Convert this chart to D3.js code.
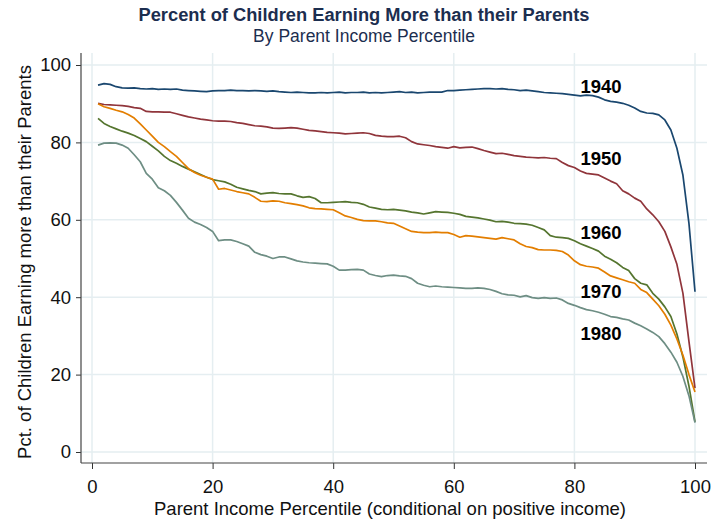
<!DOCTYPE html>
<html><head><meta charset="utf-8">
<script src="https://cdn.jsdelivr.net/npm/d3@7"></script>
<style>body{margin:0;background:#fff}svg{display:block;font-family:"Liberation Sans",Arial,sans-serif}</style>
</head><body><svg id="c" width="713" height="519"></svg>
<script>
const percentiles = d3.range(1, 101);
const cohorts = ["1940", "1950", "1960", "1970", "1980"];
const colors = ["#1a476f", "#90353b", "#55752f", "#e37e00", "#6e8e84"];
const xTicks = [0, 20, 40, 60, 80, 100];
const yTicks = [0, 20, 40, 60, 80, 100];
const s1940 = [94.8,95.2,95.0,94.4,94.1,94.0,94.1,93.9,93.8,93.9,93.7,93.8,93.7,93.8,93.5,93.4,93.3,93.2,93.1,93.3,93.4,93.4,93.5,93.4,93.4,93.3,93.4,93.3,93.2,93.3,93.1,93.0,92.9,93.0,92.9,92.8,92.8,92.9,92.8,92.9,93.0,92.8,92.9,92.9,93.0,92.8,92.9,92.8,92.9,93.0,93.1,92.9,93.0,92.8,92.9,93.0,93.0,93.0,93.4,93.4,93.5,93.6,93.7,93.8,93.9,93.9,93.8,93.9,93.7,93.6,93.4,93.5,93.3,93.1,92.9,92.8,92.7,92.6,92.4,92.2,92.0,92.2,92.1,91.7,91.0,90.6,90.4,90.1,89.6,88.9,88.0,87.6,87.5,87.1,85.8,83.2,78.5,71.5,59.0,41.4];
const s1950 = [90.1,89.8,89.7,89.6,89.5,89.3,89.0,88.8,88.0,87.9,87.9,87.8,87.8,87.4,87.0,86.6,86.3,86.0,85.8,85.6,85.5,85.5,85.4,85.1,84.9,84.6,84.3,84.2,84.0,83.7,83.6,83.7,83.8,83.7,83.4,83.1,83.0,82.8,82.6,82.5,82.4,82.2,82.3,82.4,82.5,82.3,81.8,81.6,81.5,81.5,81.6,81.2,80.2,79.6,79.4,79.2,78.9,78.7,78.5,78.9,78.6,78.7,78.8,78.4,77.9,77.5,77.1,77.2,76.9,76.6,76.4,76.2,76.1,76.0,76.1,75.9,75.8,74.8,74.0,73.5,72.6,72.0,71.8,71.6,70.8,70.0,69.3,67.5,66.7,65.6,64.8,62.8,61.3,59.5,57.0,53.0,48.5,41.0,28.5,16.5];
const s1960 = [86.2,84.9,84.1,83.5,82.9,82.4,81.8,81.0,80.2,79.0,77.8,76.4,75.3,74.6,73.8,73.1,72.4,71.7,71.0,70.4,70.1,69.8,69.2,68.4,68.0,67.6,67.3,66.7,66.9,67.0,66.8,66.7,66.7,66.2,65.8,66.0,65.5,64.4,64.4,64.5,64.6,64.7,64.5,64.4,64.0,63.3,63.0,62.7,62.6,62.7,62.5,62.3,62.0,61.8,61.5,61.8,62.1,62.0,61.9,61.7,61.4,60.9,60.7,60.5,60.2,59.9,59.5,59.6,59.4,59.1,59.0,58.9,58.6,58.0,57.4,55.9,55.5,55.4,55.2,54.6,53.8,53.2,52.6,51.9,50.6,49.8,48.9,47.7,46.9,44.8,43.6,43.2,41.0,39.5,37.5,35.0,30.5,24.5,17.0,7.8];
const s1970 = [90.0,89.2,88.8,88.3,87.9,87.2,86.3,84.8,83.2,81.6,80.0,78.9,77.6,76.4,74.8,73.2,72.2,71.5,71.0,70.5,67.9,68.1,67.7,67.3,67.0,66.7,65.8,64.8,64.7,64.9,64.8,64.4,64.2,63.9,63.6,63.1,62.9,62.8,62.7,62.6,61.8,61.0,60.6,60.1,59.8,59.7,59.7,59.5,59.2,59.1,58.4,57.7,57.0,56.8,56.7,56.7,56.8,56.7,56.7,56.2,55.5,55.9,55.8,55.6,55.4,55.2,55.0,55.4,55.1,54.8,53.8,53.1,52.8,52.3,52.2,52.2,52.1,51.8,50.9,49.4,48.4,48.0,47.8,47.5,46.5,45.5,45.0,44.5,44.0,43.6,42.0,41.2,39.5,37.8,35.6,32.8,29.2,25.0,20.0,15.5];
const s1980 = [79.3,79.8,79.9,79.8,79.3,78.5,76.8,75.0,72.0,70.5,68.3,67.5,66.3,64.5,62.5,60.4,59.4,58.8,58.0,57.0,54.6,54.8,54.8,54.4,53.8,53.2,51.6,51.0,50.6,50.0,50.4,50.4,49.9,49.4,49.1,48.9,48.8,48.7,48.6,48.0,47.0,47.0,47.1,47.2,47.0,46.0,45.6,45.3,45.6,45.7,45.5,45.4,44.8,43.6,43.1,42.7,42.9,42.7,42.6,42.5,42.4,42.3,42.3,42.4,42.3,42.0,41.5,40.9,40.6,40.5,40.1,40.4,39.9,39.7,39.9,39.7,39.8,39.3,38.4,37.9,37.3,36.8,36.5,36.1,35.6,35.0,34.8,34.4,34.1,33.3,32.6,31.8,30.9,29.8,28.0,25.8,23.2,19.5,14.5,7.6];
const labelPos = [[81, 94.4], [81, 75.8], [81, 56.7], [81, 41.4], [81, 30.5]];

const series = [s1940, s1950, s1960, s1970, s1980];
const svg = d3.select("#c");
const x = d3.scaleLinear().domain([0, 100]).range([92, 695]);
const y = d3.scaleLinear().domain([0, 100]).range([452, 65]);
const pLeft = 81, pRight = 707, pTop = 53, pBottom = 463;
const FONT = "Liberation Sans, Arial, sans-serif";

// gridlines
svg.append("g").selectAll("line").data(xTicks).join("line")
  .attr("x1", d => x(d)).attr("x2", d => x(d)).attr("y1", pTop).attr("y2", pBottom)
  .attr("stroke", "#e5eef1").attr("stroke-width", 1.5);
svg.append("g").selectAll("line").data(yTicks).join("line")
  .attr("x1", pLeft).attr("x2", pRight).attr("y1", d => y(d)).attr("y2", d => y(d))
  .attr("stroke", "#e5eef1").attr("stroke-width", 1.5);

// axes
const xa = svg.append("g").attr("transform", `translate(0,${pBottom})`)
  .call(d3.axisBottom(x).tickValues(xTicks).tickSize(6).tickPadding(11));
const ya = svg.append("g").attr("transform", `translate(${pLeft},0)`)
  .call(d3.axisLeft(y).tickValues(yTicks).tickSize(5).tickPadding(5));
[xa, ya].forEach(g => {
  g.select(".domain").remove();
  g.selectAll("line").attr("stroke", "#333");
  g.selectAll("text").attr("fill", "#111").style("font-size", "18.5px").style("font-family", FONT);
});
svg.append("line").attr("x1", pLeft).attr("x2", pLeft).attr("y1", pTop).attr("y2", pBottom).attr("stroke", "#444").attr("stroke-width", 1.2);
svg.append("line").attr("x1", pLeft).attr("x2", pRight).attr("y1", pBottom).attr("y2", pBottom).attr("stroke", "#444").attr("stroke-width", 1.2);

// lines
const line = d3.line().x((d, i) => x(percentiles[i])).y(d => y(d));
series.forEach((s, k) => {
  svg.append("path").datum(s).attr("d", line).attr("fill", "none")
    .attr("stroke", colors[k]).attr("stroke-width", 1.7).attr("stroke-linejoin", "round");
});

// series labels
svg.append("g").selectAll("text").data(cohorts).join("text")
  .attr("x", (d, i) => x(labelPos[i][0])).attr("y", (d, i) => y(labelPos[i][1]))
  .attr("dy", "0.35em").attr("font-weight", "bold").attr("font-size", 18.5).attr("fill", "#000")
  .text(d => d);

// titles
svg.append("text").attr("x", 364).attr("y", 21).attr("text-anchor", "middle")
  .attr("font-weight", "bold").attr("font-size", 18.3).attr("fill", "#1c2e4f")
  .text("Percent of Children Earning More than their Parents");
svg.append("text").attr("x", 364).attr("y", 42).attr("text-anchor", "middle")
  .attr("font-size", 17.5).attr("fill", "#1c2e4f").text("By Parent Income Percentile");
svg.append("text").attr("x", 390).attr("y", 515).attr("text-anchor", "middle")
  .attr("font-size", 18.5).attr("fill", "#111").text("Parent Income Percentile (conditional on positive income)");
svg.append("text").attr("transform", "translate(31,262) rotate(-90)").attr("text-anchor", "middle")
  .attr("font-size", 18.5).attr("fill", "#111").text("Pct. of Children Earning more than their Parents");
</script></body></html>
